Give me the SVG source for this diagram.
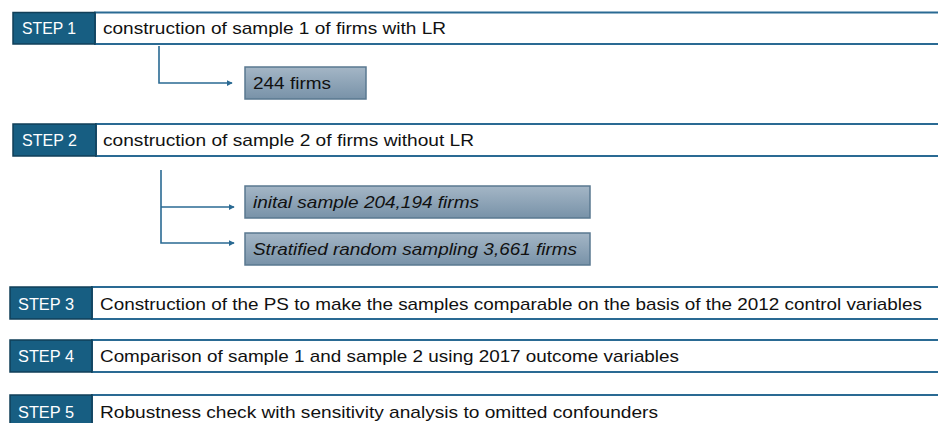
<svg xmlns="http://www.w3.org/2000/svg" width="938" height="423" viewBox="0 0 938 423">
<defs>
<linearGradient id="g" x1="0" y1="0" x2="0" y2="1">
<stop offset="0" stop-color="#a4b6c6"/>
<stop offset="1" stop-color="#7892a8"/>
</linearGradient>
<marker id="arr" viewBox="0 0 8 8" refX="7" refY="4" markerWidth="6" markerHeight="6" orient="auto" markerUnits="userSpaceOnUse">
<path d="M0,0 L8,4 L0,8 z" fill="#2a6a93"/>
</marker>
</defs>
<style>
.bar{fill:#ffffff;stroke:#2a6a93;stroke-width:2}
.step{fill:#175e82;stroke:#103f58;stroke-width:1.5}
.lbl{font-family:"Liberation Sans",Arial,sans-serif;font-size:17px;fill:#ffffff}
.txt{font-family:"Liberation Sans",Arial,sans-serif;font-size:17px;fill:#111111}
.box{fill:url(#g);stroke:#5a7890;stroke-width:1.5}
.itl{font-style:italic}
.con{fill:none;stroke:#2a6a93;stroke-width:1.6}
</style>
<g id="connectors">
<path class="con" d="M159,46 V83 H232" marker-end="url(#arr)"/>
<path class="con" d="M161,170 V243 H234" marker-end="url(#arr)"/>
<path class="con" d="M161,207 H234" marker-end="url(#arr)"/>
</g>
<g id="step1">
<rect class="bar" x="95" y="12.5" width="850" height="31.5"/>
<rect class="step" x="13" y="12.5" width="82" height="31.5"/>
<text class="lbl" x="22" y="34" textLength="54" lengthAdjust="spacingAndGlyphs">STEP 1</text>
<text class="txt" x="103" y="34" textLength="343" lengthAdjust="spacingAndGlyphs">construction of sample 1 of firms with LR</text>
</g>
<g id="n244">
<rect class="box" x="245" y="67" width="121" height="32"/>
<text class="txt" x="253" y="89" textLength="78" lengthAdjust="spacingAndGlyphs">244 firms</text>
</g>
<g id="step2">
<rect class="bar" x="96" y="124" width="850" height="32"/>
<rect class="step" x="13" y="124" width="83" height="32"/>
<text class="lbl" x="22" y="146" textLength="55" lengthAdjust="spacingAndGlyphs">STEP 2</text>
<text class="txt" x="103" y="146" textLength="371" lengthAdjust="spacingAndGlyphs">construction of sample 2 of firms without LR</text>
</g>
<g id="ninitial">
<rect class="box" x="245" y="186" width="345" height="32"/>
<text class="txt itl" x="253" y="208" textLength="226" lengthAdjust="spacingAndGlyphs">inital sample 204,194 firms</text>
</g>
<g id="nstrat">
<rect class="box" x="245" y="233" width="345" height="32"/>
<text class="txt itl" x="253" y="255" textLength="324" lengthAdjust="spacingAndGlyphs">Stratified random sampling 3,661 firms</text>
</g>
<g id="step3">
<rect class="bar" x="92" y="287" width="855" height="32"/>
<rect class="step" x="10" y="287" width="82" height="32"/>
<text class="lbl" x="18" y="310" textLength="56" lengthAdjust="spacingAndGlyphs">STEP 3</text>
<text class="txt" x="100" y="310" textLength="822" lengthAdjust="spacingAndGlyphs">Construction of the PS to make the samples comparable on the basis of the 2012 control variables</text>
</g>
<g id="step4">
<rect class="bar" x="92" y="340" width="855" height="32"/>
<rect class="step" x="10" y="340" width="82" height="32"/>
<text class="lbl" x="18" y="362" textLength="56" lengthAdjust="spacingAndGlyphs">STEP 4</text>
<text class="txt" x="100" y="362" textLength="579" lengthAdjust="spacingAndGlyphs">Comparison of sample 1 and sample 2 using 2017 outcome variables</text>
</g>
<g id="step5">
<rect class="bar" x="92" y="395" width="855" height="32"/>
<rect class="step" x="10" y="395" width="82" height="32"/>
<text class="lbl" x="18" y="418" textLength="56" lengthAdjust="spacingAndGlyphs">STEP 5</text>
<text class="txt" x="100" y="418" textLength="558" lengthAdjust="spacingAndGlyphs">Robustness check with sensitivity analysis to omitted confounders</text>
</g>
</svg>
